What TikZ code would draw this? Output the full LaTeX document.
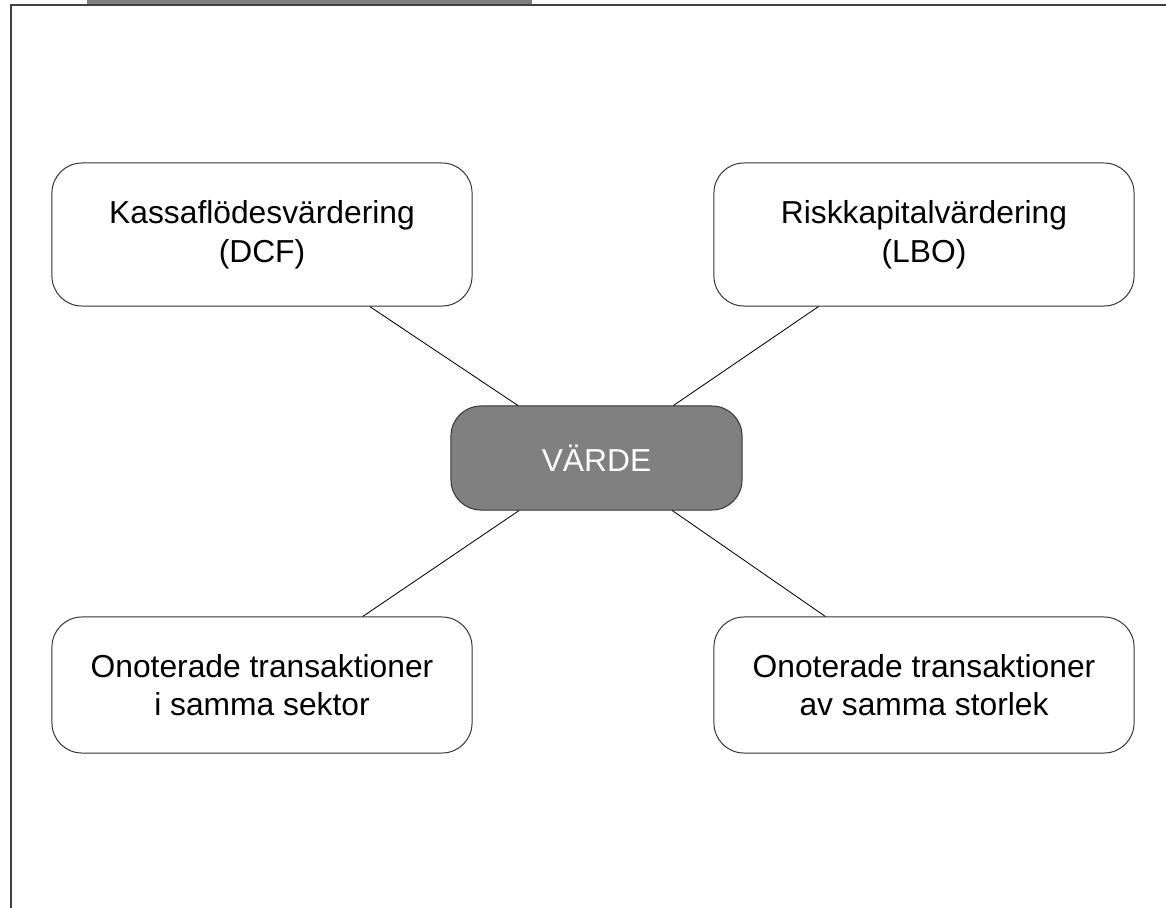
\documentclass[tikz,border=0pt]{standalone}
\usepackage{fontspec}
\setmainfont{Liberation Sans}
\usepackage{xcolor}
\definecolor{framegray}{HTML}{404040}
\definecolor{boxgray}{HTML}{808080}
\definecolor{edgegray}{HTML}{333333}
\tikzset{
  method/.style={draw=edgegray,line width=0.7pt,fill=white,rounded corners=0.75cm,
    align=center,font=\fontsize{22.6}{27.5}\selectfont,
    minimum width=10.5cm,inner sep=0pt},
  core/.style={method,fill=boxgray,text=white,minimum width=7.275cm,minimum height=2.6cm}
}

\begin{document}
\begin{tikzpicture}[x=0.025cm,y=-0.025cm]
      \useasboundingbox (0,0) rectangle (1166,908);
      % page frame
      \fill[boxgray] (87,0) rectangle (532,6);
      \draw[framegray,line width=1.4pt] (11,908) -- (11,5) -- (1166,5);
      % value methods
      \node[core] (varde) at (596.5,458) {VÄRDE};
      \node[method,minimum height=3.575cm] (dcf) at (262,234.5) {Kassaflödesvärdering\\(DCF)};
      \node[method,minimum height=3.575cm] (lbo) at (924,234.5) {Riskkapitalvärdering\\(LBO)};
      \node[method,minimum height=3.4cm] (sektor) at (262,685) {Onoterade transaktioner\\i samma sektor};
      \node[method,minimum height=3.4cm] (storlek) at (924,685) {Onoterade transaktioner\\av samma storlek};
      \foreach \m in {dcf,lbo,sektor,storlek}
        \draw[black,line width=0.6pt] (varde) -- (\m);
    \end{tikzpicture}
\end{document}
